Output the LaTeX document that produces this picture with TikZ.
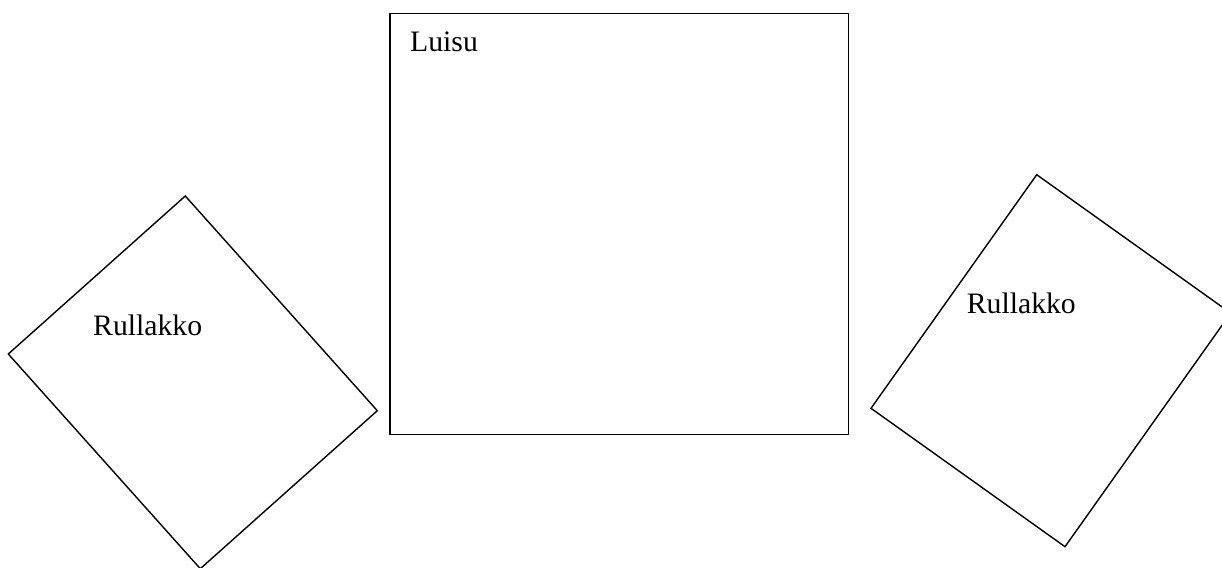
\documentclass[tikz,border=0pt]{standalone}
\usepackage{fontspec}
\setmainfont{Liberation Serif}
\usepackage{tikz}
\usetikzlibrary{calc}

\begin{document}
\begin{tikzpicture}[x=1pt, y=-1pt,
  part/.style={draw=black, line width=1.4pt, line join=miter},
  lbl/.style={font=\fontsize{29.7}{34}\selectfont, anchor=base west, inner sep=0pt}]
\useasboundingbox (0,0) rectangle (1222,567);
\clip (0,0) rectangle (1222,567);
% luisu
\draw[part] (390,13.5) rectangle (848.3,434.5);
\node[lbl] (Luisu) at (410,51.5) {Luisu};
% vasen rullakko
\coordinate (Vt) at (185.3,196);
\coordinate (Vr) at (377.3,410.7);
\coordinate (Vl) at (8.3,354);
\draw[part] (Vt) -- (Vr) -- ($(Vr)+(Vl)-(Vt)$) -- (Vl) -- cycle;
\node[lbl] (RullakkoV) at (93,335) {Rullakko};
% oikea rullakko
\coordinate (Ot) at (1036.7,174.7);
\coordinate (Ol) at (871,408.3);
\coordinate (Ob) at (1065,546.7);
\draw[part] (Ot) -- ($(Ot)+(Ob)-(Ol)$) -- (Ob) -- (Ol) -- cycle;
\node[lbl] (RullakkoO) at (966.7,313) {Rullakko};
\end{tikzpicture}
\end{document}
